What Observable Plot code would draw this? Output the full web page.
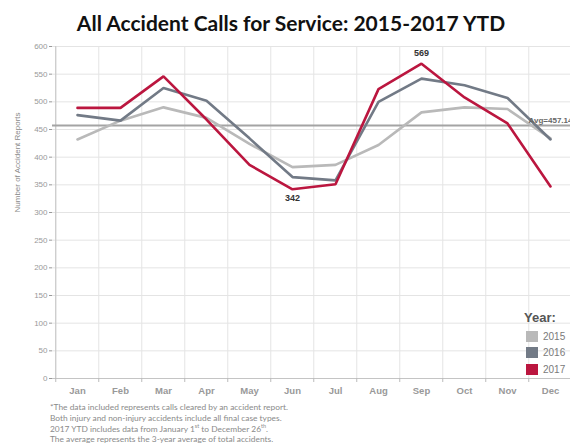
<!DOCTYPE html>
<html>
<head>
<meta charset="utf-8">
<script src="https://cdn.jsdelivr.net/npm/d3@7"></script>
<script src="https://cdn.jsdelivr.net/npm/@observablehq/plot@0.6"></script>
<style>
  body { margin: 0; background: #fff; }
  #wrap { position: relative; width: 570px; height: 445px; overflow: hidden; font-family: Lato, "Open Sans", sans-serif; }
  #title { height: 36px; box-sizing: border-box; padding-top: 11px; padding-left: 12px; text-align: center; font-weight: 700; font-size: 21px; line-height: 24px; color: #111; white-space: nowrap; }
  #chart svg { display: block; }
  #notes { position: absolute; left: 50px; top: 402px; font-size: 8.4px; line-height: 10.8px; color: #8a8a8a; }
  #notes sup { font-size: 5.5px; line-height: 0; }
  #legend { position: absolute; left: 524px; top: 310px; font-family: Arial, "Liberation Sans", sans-serif; }
  #legend .head { font-weight: 700; font-size: 13px; color: #555; margin-bottom: 3px; }
  #legend .row { display: flex; align-items: center; height: 16.5px; margin-left: 2px; }
  #legend .sw { width: 12px; height: 11px; margin-right: 5px; }
  #legend .lab { font-size: 10px; color: #7a7a7a; }
</style>
</head>
<body>
<div id="wrap">
  <div id="title">All Accident Calls for Service: 2015-2017 YTD</div>
  <div id="chart"></div>
  <div id="legend"></div>
  <div id="notes">
    *The data included represents calls cleared by an accident report.<br>
    Both injury and non-injury accidents include all final case types.<br>
    2017 YTD includes data from January 1<sup>st</sup> to December 26<sup>th</sup>.<br>
    The average represents the 3-year average of total accidents.
  </div>
</div>
<script>
// Monthly accident calls for service, by year
const months = ["Jan", "Feb", "Mar", "Apr", "May", "Jun", "Jul", "Aug", "Sep", "Oct", "Nov", "Dec"];
const years = ["2015", "2016", "2017"];
const calls2015 = [432, 466, 490, 471, 424, 382, 386, 422, 481, 490, 487, 434];
const calls2016 = [476, 466, 525, 502, 434, 364, 358, 500, 542, 530, 507, 432];
const calls2017 = [489, 489, 546, 468, 386, 342, 351, 523, 569, 508, 461, 347];
const average = 457.14;
const yTicks = [0, 50, 100, 150, 200, 250, 300, 350, 400, 450, 500, 550, 600];
const yLabel = "Number of Accident Reports";

const colors = ["#b9b9b9", "#727a86", "#bb163f"];

const series = [calls2015, calls2016, calls2017];
const rows = years.flatMap((yr, k) => months.map((m, i) => ({ month: m, year: yr, value: series[k][i] })));

// Highlight the highest and lowest months of the latest year
const latest = rows.filter(d => d.year === "2017");
const peak = latest.reduce((a, b) => (b.value > a.value ? b : a));
const low = latest.reduce((a, b) => (b.value < a.value ? b : a));

const halfStep = 21.75;

const plot = Plot.plot({
  width: 570,
  height: 364,
  marginTop: 10,
  marginBottom: 22,
  marginLeft: 52,
  marginRight: 0,
  style: { fontFamily: "Arial, 'Liberation Sans', sans-serif", background: "transparent", overflow: "hidden" },
  x: { type: "point", domain: months, range: [52, 574], padding: 0.5, label: null },
  y: { domain: [0, 600], label: null },
  color: { domain: years, range: colors },
  marks: [
    Plot.gridY(yTicks, { stroke: "#e4e4e4", strokeOpacity: 1 }),
    Plot.gridX(months, { dx: -halfStep, stroke: "#e4e4e4", strokeOpacity: 1 }),
    Plot.ruleX([months[0]], { dx: -halfStep, stroke: "#c4c4c4" }),
    Plot.ruleY([0], { stroke: "#c4c4c4" }),
    Plot.axisY(yTicks, { tickSize: 3, tickPadding: 2, fontSize: 8, color: "#999", label: null }),
    Plot.axisX(months, { tickSize: 4, tickFormat: () => "", dx: -halfStep, stroke: "#bbb", label: null }),
    Plot.axisX(months, { tickSize: 0, tickPadding: 9, fontSize: 9.5, fontWeight: "bold", color: "#999", label: null }),
    Plot.text([yLabel], { frameAnchor: "left", rotate: -90, dx: -35, fontSize: 8, fill: "#8a8a8a" }),
    Plot.ruleY([average], { stroke: "#a4a4a4", strokeWidth: 2 }),
    Plot.line(rows, { x: "month", y: "value", z: "year", stroke: "year", strokeWidth: 2.6, strokeLinejoin: "miter" }),
    Plot.text([average], { x: () => months[11], y: d => d, text: d => `Avg=${d}`, textAnchor: "start", dx: -22, dy: -5, fontSize: 8, fontWeight: "bold", fill: "#666" }),
    Plot.text([peak], { x: "month", y: "value", text: "value", dy: -11, fontSize: 9, fontWeight: "bold", fill: "#333" }),
    Plot.text([low], { x: "month", y: "value", text: "value", dy: 9, fontSize: 9, fontWeight: "bold", fill: "#333" })
  ]
});
document.getElementById("chart").appendChild(plot);

// Year legend
const legend = document.getElementById("legend");
legend.innerHTML = `<div class="head">Year:</div>` + years.map((yr, k) =>
  `<div class="row"><div class="sw" style="background:${colors[k]}"></div><div class="lab">${yr}</div></div>`
).join("");
</script>
</body>
</html>
